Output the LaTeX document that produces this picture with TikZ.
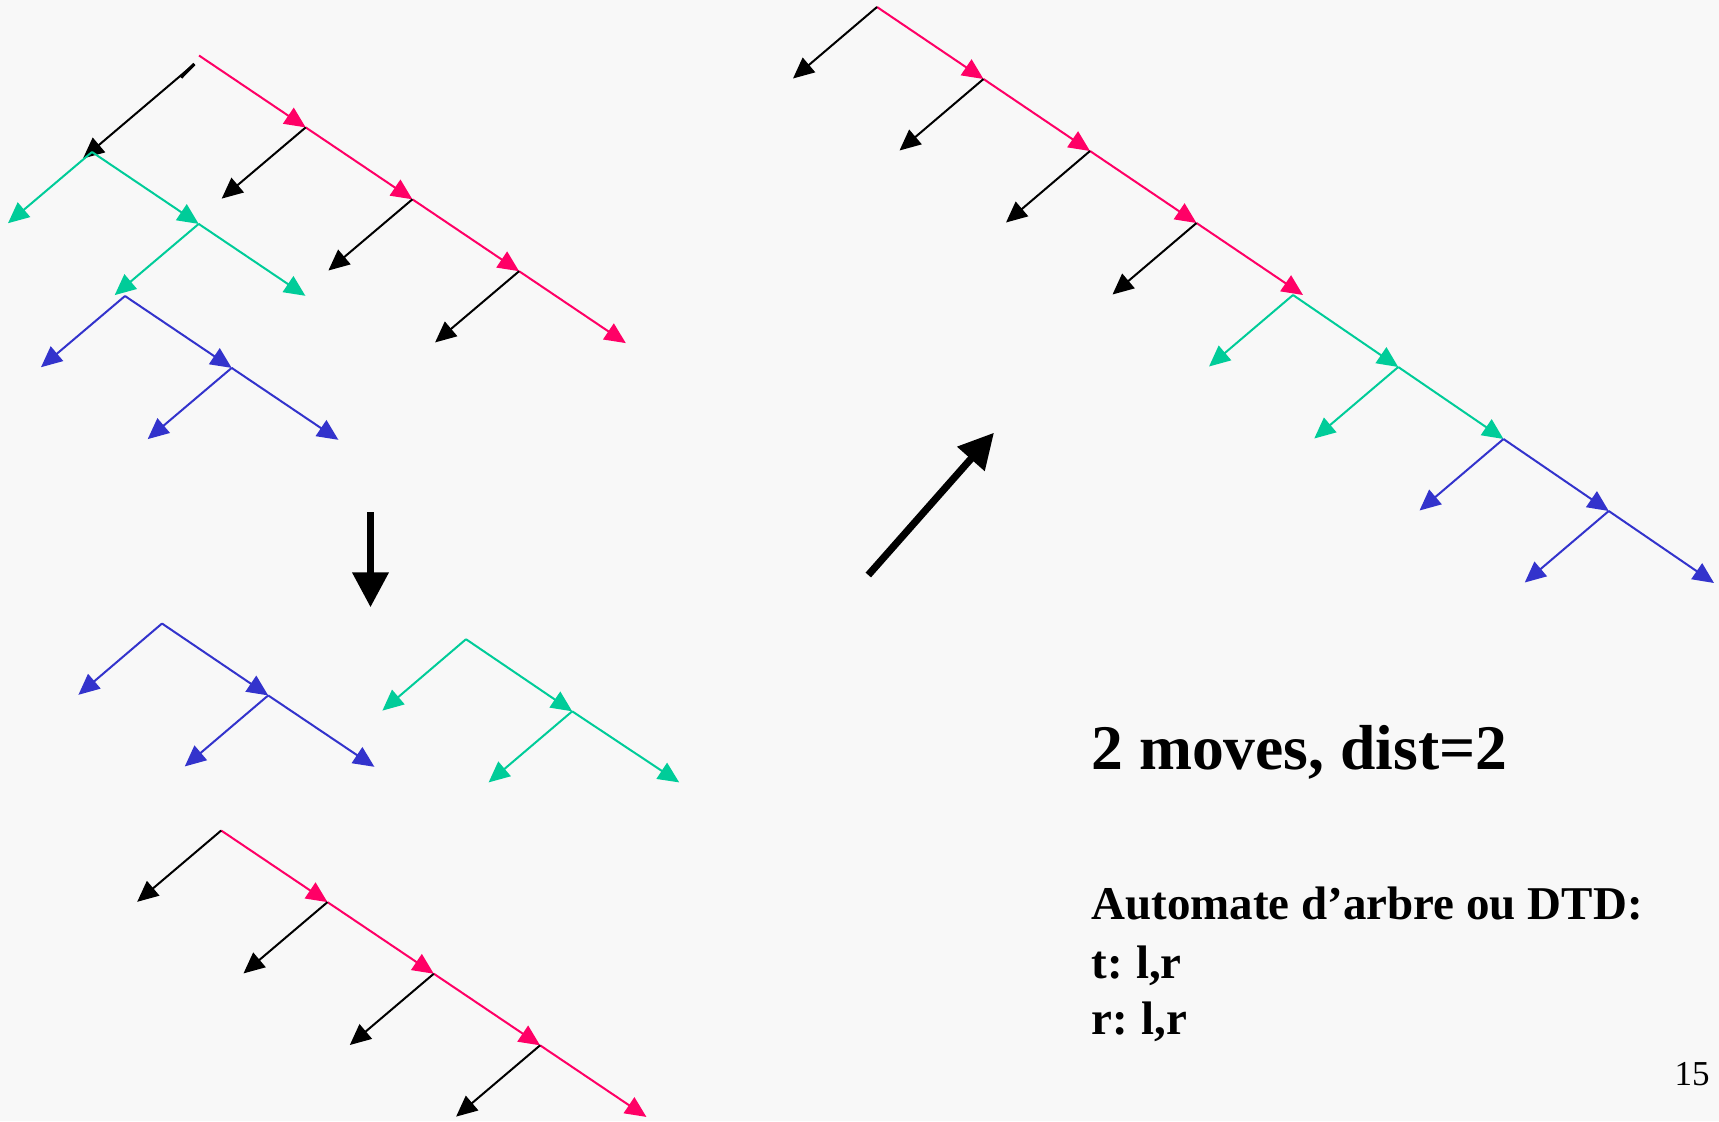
\documentclass[tikz,border=0pt]{standalone}
\usepackage{fontspec}
\setmainfont{Liberation Serif}
\usetikzlibrary{arrows.meta}
\definecolor{bgc}{HTML}{F8F8F8}
\definecolor{cred}{HTML}{FF0066}
\definecolor{cgreen}{HTML}{00CC99}
\definecolor{cblue}{HTML}{3333CC}
\tikzset{
  edge/.style={line width=1pt, -{Triangle[length=10.5pt,width=9.5pt]}},
  redE/.style={edge, color=cred},
  greenE/.style={edge, color=cgreen},
  blueE/.style={edge, color=cblue},
  blackE/.style={edge, color=black},
  bigarrow/.style={line width=3.6pt, -{Triangle[length=17.5pt,width=17.5pt]}},
  bigtxt/.style={anchor=base west, inner sep=0pt, font=\bfseries\fontsize{31.8}{38}\selectfont},
  midtxt/.style={anchor=base west, inner sep=0pt, font=\bfseries\fontsize{23.5}{28}\selectfont},
  pgtxt/.style={anchor=base east, inner sep=0pt, font=\fontsize{17.5}{20}\selectfont}
}
\begin{document}
\begin{tikzpicture}[x=0.5pt,y=-0.5pt]
\useasboundingbox (0,0) rectangle (1719,1121);
\fill[bgc] (0,0) rectangle (1719,1121);

% ---------- Tree A (top left) ----------
\coordinate (a0) at (199,55.5);
\coordinate (a1) at (305.7,127.4);
\coordinate (a2) at (412.4,199.3);
\coordinate (a3) at (519.1,271.2);
\coordinate (a4) at (625.8,343.1);
\coordinate (al1) at (221.7,198.6);
\coordinate (al2) at (328.4,270.5);
\coordinate (al3) at (435.1,342.4);
\coordinate (ak0) at (194.3,64);
\coordinate (akj) at (181,77.5);
\coordinate (ak1) at (83,158.5);
\coordinate (g0) at (92,152);
\coordinate (gl0) at (8,223.2);
\coordinate (g1) at (198.7,223.9);
\coordinate (gl1) at (114.7,295.1);
\coordinate (gr1) at (305.4,295.8);
\coordinate (b0) at (125,296);
\coordinate (bl0) at (41,367.2);
\coordinate (b1) at (231.7,367.9);
\coordinate (bl1) at (147.7,439.1);
\coordinate (br1) at (338.4,439.8);

\draw[redE] (a0) -- (a1);
\draw[redE] (a1) -- (a2);
\draw[redE] (a2) -- (a3);
\draw[redE] (a3) -- (a4);
\draw[blackE] (a1) -- (al1);
\draw[blackE] (a2) -- (al2);
\draw[blackE] (a3) -- (al3);
\draw[line width=1.6pt] (ak0) -- (akj);
\draw[blackE] (ak0) -- (ak1);
\draw[greenE] (g0) -- (gl0);
\draw[greenE] (g0) -- (g1);
\draw[greenE] (g1) -- (gl1);
\draw[greenE] (g1) -- (gr1);
\draw[blueE] (b0) -- (bl0);
\draw[blueE] (b0) -- (b1);
\draw[blueE] (b1) -- (bl1);
\draw[blueE] (b1) -- (br1);

% ---------- Tree B (top right) ----------
\coordinate (t0) at (877,7);
\coordinate (t1) at (983.5,79);
\coordinate (t2) at (1090,151);
\coordinate (t3) at (1196.5,223);
\coordinate (t4) at (1303,295);
\coordinate (tl0) at (793,78.5);
\coordinate (tl1) at (899.5,150.5);
\coordinate (tl2) at (1006,222.5);
\coordinate (tl3) at (1112.5,294.5);
\coordinate (s0) at (1293,295);
\coordinate (s1) at (1398.25,367);
\coordinate (s2) at (1503.5,439);
\coordinate (s3) at (1608.75,511);
\coordinate (s4) at (1714,583);
\coordinate (sl0) at (1209,366.5);
\coordinate (sl1) at (1314.25,438.5);
\coordinate (sl2) at (1419.5,510.5);
\coordinate (sl3) at (1524.75,582.5);

\draw[redE] (t0) -- (t1);
\draw[redE] (t1) -- (t2);
\draw[redE] (t2) -- (t3);
\draw[redE] (t3) -- (t4);
\draw[blackE] (t0) -- (tl0);
\draw[blackE] (t1) -- (tl1);
\draw[blackE] (t2) -- (tl2);
\draw[blackE] (t3) -- (tl3);
\draw[greenE] (s0) -- (sl0);
\draw[greenE] (s0) -- (s1);
\draw[greenE] (s1) -- (sl1);
\draw[greenE] (s1) -- (s2);
\draw[blueE] (s2) -- (sl2);
\draw[blueE] (s2) -- (s3);
\draw[blueE] (s3) -- (sl3);
\draw[blueE] (s3) -- (s4);

% ---------- Tree C (bottom left, blue) ----------
\coordinate (c0) at (162,623.5);
\coordinate (cl0) at (78.4,694.8);
\coordinate (c1) at (268.2,695.4);
\coordinate (cl1) at (184.8,766.4);
\coordinate (cr1) at (374.4,766.8);
\draw[blueE] (c0) -- (cl0);
\draw[blueE] (c0) -- (c1);
\draw[blueE] (c1) -- (cl1);
\draw[blueE] (c1) -- (cr1);

% ---------- Tree D (bottom middle, green) ----------
\coordinate (d0) at (466,639.2);
\coordinate (dl0) at (382.4,710.6);
\coordinate (d1) at (572.2,711.3);
\coordinate (dl1) at (488.6,782.4);
\coordinate (dr1) at (679.2,782.4);
\draw[greenE] (d0) -- (dl0);
\draw[greenE] (d0) -- (d1);
\draw[greenE] (d1) -- (dl1);
\draw[greenE] (d1) -- (dr1);

% ---------- Tree E (bottom, red/black) ----------
\coordinate (e0) at (221.2,830.5);
\coordinate (e1) at (327.5,902.1);
\coordinate (e2) at (433.8,973.7);
\coordinate (e3) at (540.1,1045.3);
\coordinate (e4) at (646.4,1116.9);
\coordinate (el0) at (137.2,901.8);
\coordinate (el1) at (243.5,973.4);
\coordinate (el2) at (349.8,1045);
\coordinate (el3) at (456.1,1116.6);
\draw[redE] (e0) -- (e1);
\draw[redE] (e1) -- (e2);
\draw[redE] (e2) -- (e3);
\draw[redE] (e3) -- (e4);
\draw[blackE] (e0) -- (el0);
\draw[blackE] (e1) -- (el1);
\draw[blackE] (e2) -- (el2);
\draw[blackE] (e3) -- (el3);

% ---------- Big arrows ----------
\coordinate (da0) at (370.5,512);
\coordinate (da1) at (370.5,607.3);
\draw[bigarrow] (da0) -- (da1);
\coordinate (ua0) at (868.3,575);
\coordinate (ua1) at (994,432.7);
\draw[bigarrow] (ua0) -- (ua1);

% ---------- Texts ----------
\node[bigtxt] (title) at (1091,769) {2 moves, dist=2};
\node[midtxt] (auto) at (1091,919.5) {Automate d’arbre ou DTD:};
\node[midtxt] (rt) at (1091,978.5) {t:\kern-0.05em{} l,r};
\node[midtxt] (rr) at (1091,1034) {r:\kern-0.05em{} l,r};
\node[pgtxt] (page) at (1710,1085) {15};
\end{tikzpicture}
\end{document}
